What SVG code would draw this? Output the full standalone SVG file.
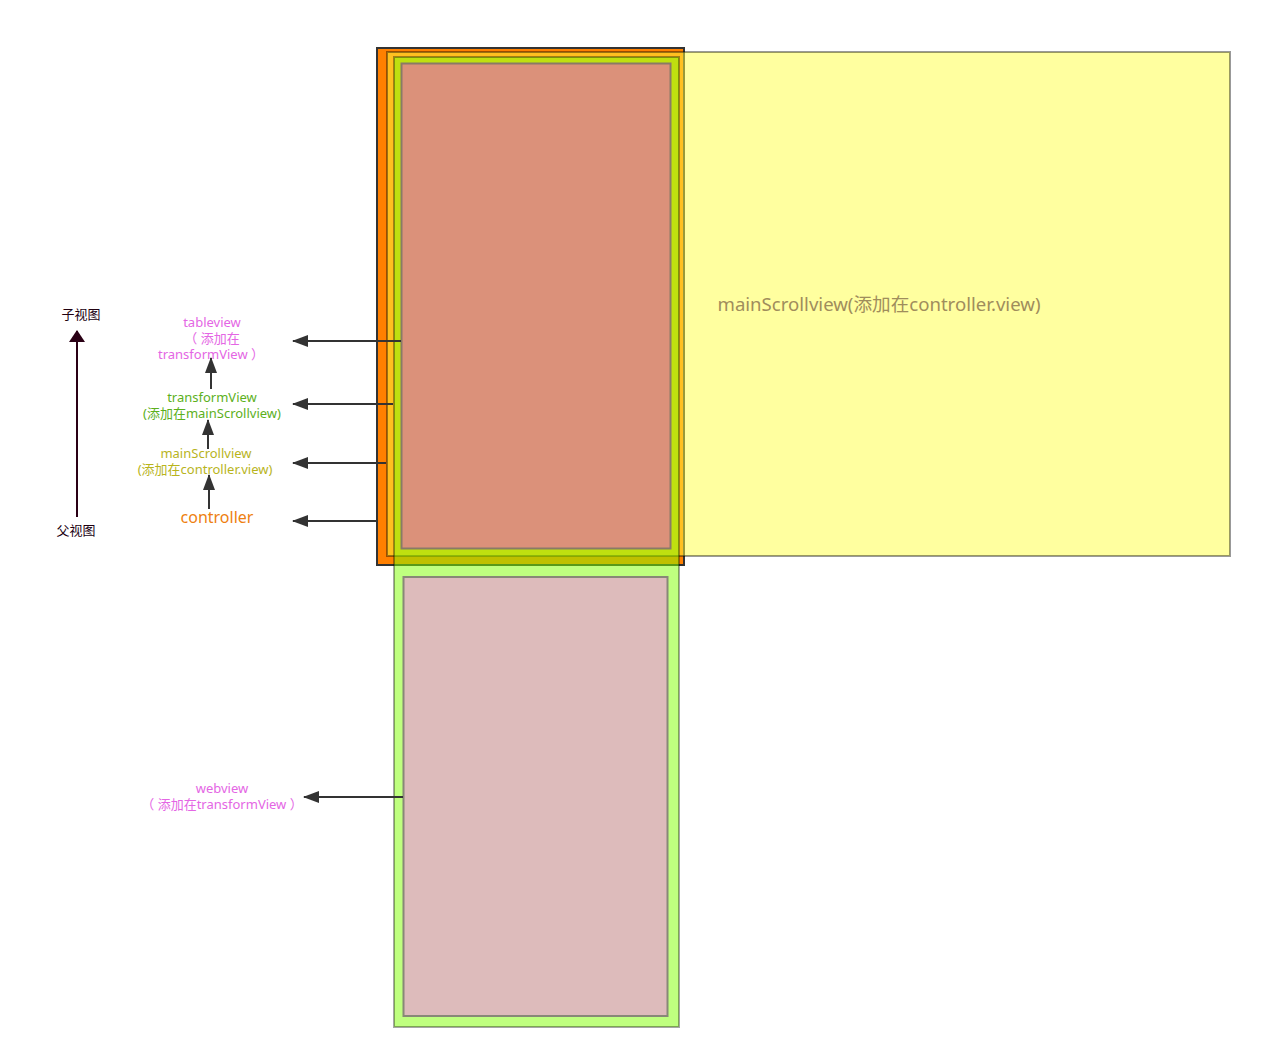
<svg xmlns="http://www.w3.org/2000/svg" width="1262" height="1059" viewBox="0 0 1262 1059">
<defs>
<style>
text{font-family:"Noto Sans","Noto Sans CJK SC",sans-serif;text-anchor:middle;}
.s13{font-size:13px;}
.pink{fill:#E466E4;}
.green{fill:#5CB01C;}
.olive{fill:#B8B41C;}
.conn{stroke:#333;stroke-width:2;fill:none;}
</style>
<marker id="ahl" viewBox="0 0 16 12" refX="15" refY="6" markerWidth="16" markerHeight="12" markerUnits="userSpaceOnUse" orient="auto">
<path d="M0,0 L16,6 L0,12 z" fill="#333"/>
</marker>
<marker id="ahs" viewBox="0 0 16 12" refX="15" refY="6" markerWidth="16" markerHeight="12" markerUnits="userSpaceOnUse" orient="auto">
<path d="M0,0 L16,6 L0,12 z" fill="#333"/>
</marker>
<marker id="ahm" viewBox="0 0 12 16" refX="11" refY="8" markerWidth="12" markerHeight="16" markerUnits="userSpaceOnUse" orient="auto">
<path d="M0,0 L12,8 L0,16 z" fill="#2A0015"/>
</marker>
</defs>
<rect width="1262" height="1059" fill="#fff"/>
<g id="controller">
<rect x="377" y="48" width="307" height="517" fill="#FF8000" stroke="#333" stroke-width="2"/>
</g>
<g id="mainScrollview">
<rect x="387" y="52" width="843" height="504" fill="#FFFF40" fill-opacity="0.5" stroke="#000" stroke-opacity="0.4" stroke-width="2"/>
<text x="879" y="311" style="font-size:18.6px;fill:#9F8D5C;">mainScrollview(添加在controller.view)</text>
</g>
<g id="transformView">
<rect x="394" y="57" width="285" height="970" fill="#80FF00" fill-opacity="0.5" stroke="#000" stroke-opacity="0.35" stroke-width="2"/>
</g>
<g id="tableview">
<rect x="401.5" y="63.5" width="269" height="485" fill="#DB917A" stroke="#8A7A66" stroke-width="2"/>
</g>
<g id="webview">
<rect x="403.5" y="577" width="264" height="439" fill="#DDBBBB" stroke="#888877" stroke-width="2"/>
</g>
<g id="labels">
<text class="s13" x="81" y="319" fill="#200010">子视图</text>
<text class="s13" x="76" y="535" fill="#200010">父视图</text>
<text class="s13 pink" x="212" y="327">tableview</text>
<text class="s13 pink" x="212" y="343">（ 添加在</text>
<text class="s13 pink" x="211" y="359">transformView ）</text>
<text class="s13 green" x="212" y="402">transformView</text>
<text class="s13 green" x="212" y="418">(添加在mainScrollview)</text>
<text class="s13 olive" x="206" y="458">mainScrollview</text>
<text class="s13 olive" x="205" y="474">(添加在controller.view)</text>
<text x="217" y="523" style="font-size:16px;fill:#EE7F10;">controller</text>
<text class="s13 pink" x="222" y="793">webview</text>
<text class="s13 pink" x="222" y="809">（ 添加在transformView ）</text>
</g>
<g id="connectors">
<line x1="77" y1="517" x2="77" y2="331" stroke="#2A0015" stroke-width="2" marker-end="url(#ahm)"/>
<line class="conn" x1="211" y1="389" x2="211" y2="358" marker-end="url(#ahs)"/>
<line class="conn" x1="208" y1="449" x2="208" y2="420" marker-end="url(#ahs)"/>
<line class="conn" x1="209" y1="509" x2="209" y2="475" marker-end="url(#ahs)"/>
<line class="conn" x1="401" y1="341" x2="293" y2="341" marker-end="url(#ahl)"/>
<line class="conn" x1="393" y1="404" x2="293" y2="404" marker-end="url(#ahl)"/>
<line class="conn" x1="386" y1="463" x2="293" y2="463" marker-end="url(#ahl)"/>
<line class="conn" x1="377" y1="521" x2="293" y2="521" marker-end="url(#ahl)"/>
<line class="conn" x1="403" y1="797" x2="304" y2="797" marker-end="url(#ahl)"/>
</g>
</svg>
